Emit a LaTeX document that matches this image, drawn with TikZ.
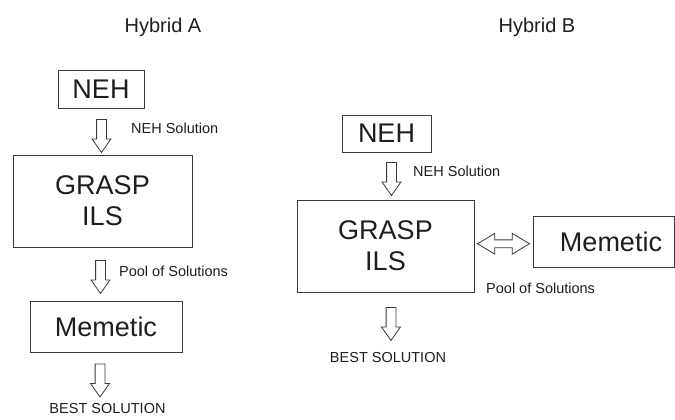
\documentclass[tikz,border=0pt]{standalone}
\usepackage{fontspec}
\setmainfont{Liberation Sans}
\usetikzlibrary{shapes.arrows,calc}
\definecolor{ink}{HTML}{1E1E1E}
\definecolor{edge}{HTML}{3A3A3A}

\begin{document}
\begin{tikzpicture}[x=1pt,y=-1pt,
  box/.style={draw=edge, line width=0.9pt, inner sep=0pt, text=ink,
    font=\fontsize{27}{31}\selectfont, align=center},
  title/.style={text=ink, inner sep=0pt, font=\fontsize{20}{24}\selectfont},
  note/.style={text=ink, inner sep=0pt, font=\fontsize{14.5}{17}\selectfont},
  downarrow/.style={single arrow, draw=edge, fill=white, line width=0.8pt,
    shape border rotate=270, inner sep=4.5pt, minimum height=33pt,
    single arrow head extend=4.5pt, single arrow tip angle=70},
  bothways/.style={double arrow, draw=edge, fill=white, line width=0.8pt,
    inner sep=3.5pt, minimum height=52pt,
    double arrow head extend=6.5pt, double arrow tip angle=62}]

\useasboundingbox (0,0) rectangle (675,420);

% ---- Hybrid A: sequential pipeline ----
\node[title] (tA) at (163,27) {Hybrid A};

\node[box, minimum width=86pt, minimum height=38pt] (nehA) at (101,89) {NEH};
\node[box, minimum width=179pt, minimum height=92pt] (graspA) at (102.5,201) {GRASP\\ILS};
\node[box, minimum width=152pt, minimum height=51pt] (memA) at (106,326.5) {Memetic};

\node[downarrow] (aA1) at (101.5,132.5) {};
\node[downarrow] (aA2) at (100.5,273.5) {};
\node[downarrow] (aA3) at (100,377) {};

\node[note, anchor=west] (solA) at (131,128) {NEH Solution};
\node[note, anchor=west] (poolA) at (119,271) {Pool of Solutions};
\node[note] (bestA) at (107.5,409) {BEST SOLUTION};

% ---- Hybrid B: GRASP/ILS cooperating with Memetic ----
\node[title] (tB) at (537,27) {Hybrid B};

\node[box, minimum width=89pt, minimum height=37pt] (nehB) at (386.5,133.5) {NEH};
\node[box, minimum width=177pt, minimum height=92pt] (graspB) at (385.5,246) {GRASP\\ILS};
\node[box, minimum width=141pt, minimum height=51pt] (memB) at (603.5,241.5) {\hspace*{15pt}Memetic};

\node[downarrow] (aB1) at (391.5,175.5) {};
\node[downarrow] (aB2) at (391,320.5) {};
\node[bothways] (swap) at ($(graspB.east)!0.5!(memB.west)$) {};

\node[note, anchor=west] (solB) at (413,171) {NEH Solution};
\node[note, anchor=west] (poolB) at (486,288) {Pool of Solutions};
\node[note] (bestB) at (388,358) {BEST SOLUTION};

\end{tikzpicture}
\end{document}
